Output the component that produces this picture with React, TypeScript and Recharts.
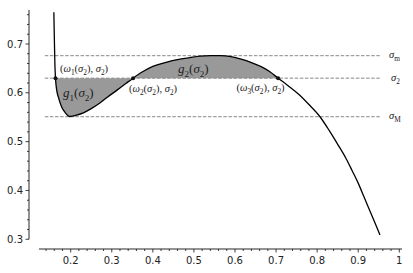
import React from "react";
import {
  Area,
  ComposedChart,
  Line,
  ReferenceLine,
  Scatter,
  XAxis,
  YAxis,
} from "recharts";

// curve sigma(omega)
const omega = [
  0.159, 0.1605, 0.1615, 0.163, 0.1655, 0.17, 0.178, 0.187, 0.198, 0.21, 0.231,
  0.25, 0.271, 0.29, 0.312, 0.335, 0.352, 0.375, 0.4, 0.43, 0.46, 0.49, 0.515,
  0.54, 0.565, 0.59, 0.615, 0.64, 0.665, 0.685, 0.705, 0.73, 0.755, 0.78,
  0.806, 0.83, 0.849, 0.87, 0.885, 0.9, 0.914, 0.935, 0.953,
];
const sigma = [
  0.765, 0.7, 0.66, 0.63, 0.608, 0.591, 0.571, 0.559, 0.5515, 0.5535, 0.559,
  0.5675, 0.579, 0.5915, 0.605, 0.6195, 0.63, 0.643, 0.654, 0.662, 0.668, 0.672,
  0.675, 0.676, 0.676, 0.674, 0.669, 0.662, 0.653, 0.643, 0.63, 0.614, 0.597,
  0.576, 0.552, 0.522, 0.496, 0.466, 0.441, 0.415, 0.387, 0.345, 0.309,
];

// horizontal levels sigma_m, sigma_2, sigma_M
const levelNames = ["m", "2", "M"];
const levels = [0.676, 0.63, 0.551];
const levelSpan = [0.137, 0.954];

const sigma2 = 0.63;
const omegaCross = [0.163, 0.352, 0.705];

const xMajor = [0.2, 0.3, 0.4, 0.5, 0.6, 0.7, 0.8, 0.9, 1.0];
const xMajorLabels = ["0.2", "0.3", "0.4", "0.5", "0.6", "0.7", "0.8", "0.9", "1"];
const yMajor = [0.3, 0.4, 0.5, 0.6, 0.7];
const yMajorLabels = ["0.3", "0.4", "0.5", "0.6", "0.7"];

const X_DOMAIN: [number, number] = [0.0985, 1.0066];
const Y_DOMAIN: [number, number] = [0.2801, 0.7696];
const X_AXIS_FROM = 0.1228;
const Y_AXIS_FROM = 0.3;

const minorTicks = (from: number, to: number) => {
  const out: number[] = [];
  for (let k = Math.ceil(from / 0.02 - 1e-9); k * 0.02 <= to + 1e-9; k++) {
    out.push(Math.round(k * 2) / 100);
  }
  return out;
};
const xTicks = minorTicks(0.14, 1.0);
const yTicks = minorTicks(0.3, 0.76);

const lo = Math.min(...omegaCross);
const hi = Math.max(...omegaCross);
const data = omega.map((w, i) => ({
  w,
  s: sigma[i],
  band:
    w >= lo - 1e-9 && w <= hi + 1e-9
      ? [Math.min(sigma[i], sigma2), Math.max(sigma[i], sigma2)]
      : null,
}));
const crossPoints = omegaCross.map((w) => ({ w, s: sigma2 }));

const AXIS = "#111";
const TEXT = "#222";

function findLabel(v: number, majors: number[], labels: string[]) {
  const i = majors.findIndex((m) => Math.abs(m - v) < 1e-6);
  return i >= 0 ? labels[i] : null;
}

function XTick(props: any) {
  const { x, y, payload } = props;
  const label = findLabel(payload.value, xMajor, xMajorLabels);
  return (
    <g>
      <line x1={x} x2={x} y1={y} y2={y + (label ? 3.5 : 2)} stroke={AXIS} strokeWidth={0.8} />
      {label && (
        <text x={x} y={y + 15} textAnchor="middle" fontFamily="DejaVu Sans" fontSize={10} fill={TEXT}>
          {label}
        </text>
      )}
    </g>
  );
}

function YTick(props: any) {
  const { x, y, payload } = props;
  const label = findLabel(payload.value, yMajor, yMajorLabels);
  return (
    <g>
      <line x1={x} x2={x - (label ? 3.5 : 2)} y1={y} y2={y} stroke={AXIS} strokeWidth={0.8} />
      {label && (
        <text x={x - 6} y={y + 3.6} textAnchor="end" fontFamily="DejaVu Sans" fontSize={10} fill={TEXT}>
          {label}
        </text>
      )}
    </g>
  );
}

type Part = [string, "n" | "i" | "s"];

function MathText({ x, y, parts, size }: { x: number; y: number; parts: Part[]; size: number }) {
  let down = false;
  const shift = size * 0.3;
  return (
    <text x={x} y={y} fontFamily="Liberation Serif" fontSize={size} fill={TEXT}>
      {parts.map(([t, k], i) => {
        const sub = k === "s";
        let dy = 0;
        if (sub && !down) {
          dy = shift;
          down = true;
        } else if (!sub && down) {
          dy = -shift;
          down = false;
        }
        return (
          <tspan
            key={i}
            dy={dy || undefined}
            fontStyle={k === "i" ? "italic" : "normal"}
            fontSize={sub ? size * 0.7 : size}
          >
            {t}
          </tspan>
        );
      })}
    </text>
  );
}

const omegaLabel = (n: string): Part[] => [
  ["(", "n"], ["ω", "i"], [n, "s"], ["(", "n"], ["σ", "i"], ["2", "s"],
  ["), ", "n"], ["σ", "i"], ["2", "s"], [")", "n"],
];
const gLabel = (n: string): Part[] => [
  ["g", "i"], [n, "s"], ["(", "n"], ["σ", "i"], ["2", "s"], [")", "n"],
];

export default function App() {
  return (
    <div style={{ position: "absolute", left: 0, top: 0, width: 413, height: 273, background: "#fff" }}>
      <ComposedChart
        width={413}
        height={273}
        data={data}
        margin={{ top: 10, right: 11, left: 0, bottom: 0 }}
      >
        <XAxis
          type="number"
          dataKey="w"
          domain={X_DOMAIN}
          allowDataOverflow
          ticks={xTicks}
          interval={0}
          axisLine={false}
          tickLine={false}
          tickSize={0}
          tickMargin={0}
          height={24}
          tick={<XTick />}
        />
        <YAxis
          type="number"
          domain={Y_DOMAIN}
          allowDataOverflow
          ticks={yTicks}
          interval={0}
          axisLine={false}
          tickLine={false}
          tickSize={0}
          tickMargin={0}
          width={29}
          tick={<YTick />}
        />
        {levels.map((lv, i) => (
          <Line
            key={levelNames[i]}
            data={levelSpan.map((w) => ({ w, s: lv }))}
            dataKey="s"
            stroke="#888"
            strokeWidth={1}
            strokeDasharray="3.5 1.6"
            dot={false}
            isAnimationActive={false}
          />
        ))}
        <Area
          dataKey="band"
          type="monotone"
          fill="#999"
          fillOpacity={1}
          stroke="none"
          isAnimationActive={false}
        />
        <Line
          dataKey="s"
          type="monotone"
          stroke="#000"
          strokeWidth={1.3}
          dot={false}
          isAnimationActive={false}
        />
        <Scatter
          data={crossPoints}
          dataKey="s"
          fill="#111"
          shape={(p: any) => <circle cx={p.cx} cy={p.cy} r={2} fill="#111" />}
          isAnimationActive={false}
        />
        <ReferenceLine
          segment={[{ x: X_AXIS_FROM, y: Y_DOMAIN[0] }, { x: X_DOMAIN[1], y: Y_DOMAIN[0] }]}
          stroke={AXIS}
          strokeWidth={0.9}
          ifOverflow="visible"
        />
        <ReferenceLine
          segment={[{ x: X_DOMAIN[0], y: Y_AXIS_FROM }, { x: X_DOMAIN[0], y: Y_DOMAIN[1] }]}
          stroke={AXIS}
          strokeWidth={0.9}
          ifOverflow="visible"
        />
      </ComposedChart>
      <svg
        width={413}
        height={273}
        style={{ position: "absolute", left: 0, top: 0, pointerEvents: "none" }}
      >
        <MathText x={60} y={71.5} size={10.5} parts={omegaLabel("1")} />
        <MathText x={129} y={91.5} size={10.5} parts={omegaLabel("2")} />
        <MathText x={236.5} y={90.5} size={10.5} parts={omegaLabel("3")} />
        <MathText x={63} y={97} size={13} parts={gLabel("1")} />
        <MathText x={178} y={73} size={13} parts={gLabel("2")} />
        <MathText x={389} y={57.5} size={10.5} parts={[["σ", "i"], ["m", "s"]]} />
        <MathText x={391} y={80.5} size={10.5} parts={[["σ", "i"], ["2", "s"]]} />
        <MathText x={389} y={118.5} size={10.5} parts={[["σ", "i"], ["M", "s"]]} />
      </svg>
    </div>
  );
}
